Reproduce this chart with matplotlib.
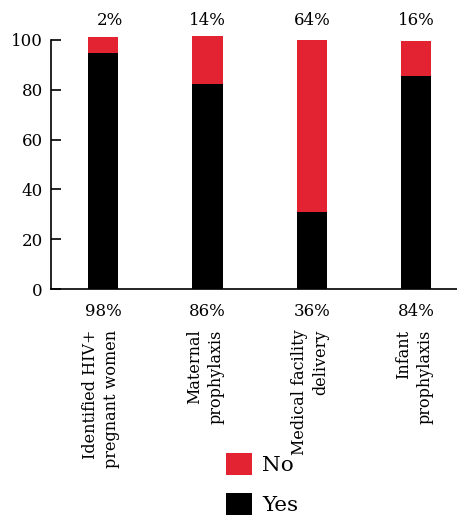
import matplotlib
matplotlib.use("Agg")
import matplotlib.pyplot as plt
from matplotlib.patches import Patch

categories = ["Identified HIV+\npregnant women", "Maternal\nprophylaxis",
              "Medical facility\ndelivery", "Infant\nprophylaxis"]
yes_vals = [94.6, 82.3, 30.9, 85.5]
no_vals = [6.4, 19.3, 69.1, 14.1]
top_labels = ["2%", "14%", "64%", "16%"]
bottom_labels = ["98%", "86%", "36%", "84%"]
yticks = [0, 20, 40, 60, 80, 100]

RED = "#e32232"
plt.rcParams['font.family'] = ['DejaVu Serif']
FS = 12

W, H = 457, 515
fig = plt.figure(figsize=(W / 100, H / 100), dpi=100)
ax_left, ax_bottom_px, ax_top_px = 51, 289, 35
ax = fig.add_axes([ax_left / W, 1 - ax_bottom_px / H, 1 - ax_left / W,
                   (ax_bottom_px - ax_top_px) / H])

x = list(range(len(categories)))
ax.bar(x, yes_vals, width=0.29, color="black", label="Yes")
ax.bar(x, no_vals, bottom=yes_vals, width=0.29, color=RED, label="No")

ax.set_xlim(-0.5, 3.39)
ax.set_ylim(0, 102)
ax.set_yticks(yticks)
ax.tick_params(axis='y', labelsize=FS, direction='in', length=7.5, width=1.2, pad=5.8)
ax.tick_params(axis='x', length=0, labelbottom=False)
ax.spines['top'].set_visible(False)
ax.spines['right'].set_visible(False)
ax.spines['left'].set_bounds(0, 100)
ax.spines['left'].set_linewidth(1.2)
ax.spines['bottom'].set_linewidth(1.2)

for i in x:
    ax.text(i + (0.06 if i == 0 else 0), 108, top_labels[i], ha='center', va='center',
            fontsize=FS, clip_on=False)
    ax.text(i, -9.2, bottom_labels[i], ha='center', va='center',
            fontsize=FS, clip_on=False)
    ax.text(i - 0.02, -16.3, categories[i], ha='center', va='top', rotation=90,
            multialignment='right', fontsize=11.5, clip_on=False, linespacing=1.3)

handles = [Patch(facecolor=RED, label="No"), Patch(facecolor="black", label="Yes")]
fig.legend(handles=handles, loc='upper left', bbox_to_anchor=(226 / W, 1 - 453 / H),
           frameon=False, fontsize=15.4, handlelength=1.2, handleheight=1.2,
           handletextpad=0.5, labelspacing=0.82, borderpad=0, borderaxespad=0)

fig.savefig("out.png", dpi=100)
